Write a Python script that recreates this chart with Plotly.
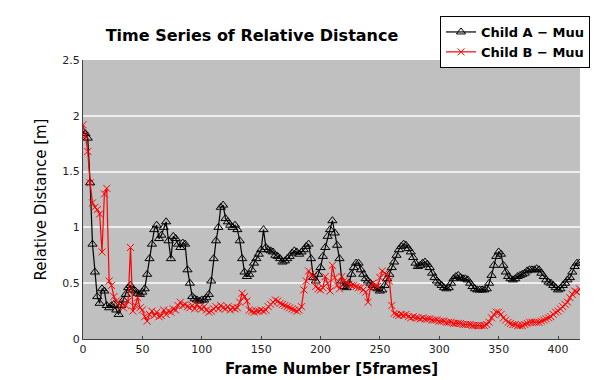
import plotly.graph_objects as go

frames = list(range(0, 419, 2))

child_a = [
    1.86, 1.84, 1.80, 1.40, 0.85, 0.60, 0.38, 0.32, 0.45, 0.43,
    0.30, 0.28, 0.30, 0.31, 0.26, 0.22, 0.30, 0.35, 0.40, 0.46,
    0.48, 0.44, 0.43, 0.41, 0.40, 0.42, 0.45, 0.58, 0.72, 0.85,
    0.98, 1.02, 0.90, 0.93, 1.00, 1.05, 0.88, 0.72, 0.92, 0.90,
    0.85, 0.82, 0.86, 0.85, 0.62, 0.50, 0.38, 0.36, 0.35, 0.34,
    0.35, 0.35, 0.37, 0.40, 0.52, 0.72, 0.88, 1.00, 1.18, 1.20,
    1.08, 1.05, 1.02, 1.00, 1.02, 0.98, 0.88, 0.72, 0.60, 0.56,
    0.58, 0.62, 0.68, 0.72, 0.76, 0.80, 0.98, 0.82, 0.80, 0.79,
    0.78, 0.75, 0.74, 0.72, 0.69, 0.70, 0.72, 0.74, 0.77, 0.79,
    0.78, 0.76, 0.78, 0.80, 0.83, 0.85, 0.72, 0.55, 0.52, 0.58,
    0.64, 0.74, 0.82, 0.92, 0.98, 1.06, 0.95, 0.84, 0.72, 0.52,
    0.47, 0.46, 0.50, 0.58, 0.64, 0.68, 0.68, 0.62, 0.58, 0.54,
    0.52, 0.50, 0.48, 0.46, 0.45, 0.43, 0.44, 0.48, 0.54, 0.58,
    0.64, 0.69, 0.75, 0.80, 0.83, 0.85, 0.84, 0.81, 0.78, 0.73,
    0.68, 0.65, 0.66, 0.68, 0.69, 0.67, 0.64, 0.59, 0.55, 0.52,
    0.50, 0.48, 0.46, 0.45, 0.46, 0.50, 0.54, 0.56, 0.57, 0.55,
    0.54, 0.54, 0.53, 0.50, 0.47, 0.45, 0.44, 0.44, 0.44, 0.44,
    0.45, 0.50, 0.57, 0.66, 0.74, 0.78, 0.76, 0.66, 0.60, 0.56,
    0.54, 0.53, 0.54, 0.56, 0.57, 0.58, 0.59, 0.61, 0.62, 0.62,
    0.62, 0.63, 0.62, 0.59, 0.56, 0.53, 0.51, 0.50, 0.48, 0.46,
    0.44, 0.45, 0.48, 0.50, 0.53, 0.55, 0.60, 0.65, 0.68, 0.68,
]

child_b = [
    1.92, 1.82, 1.68, 1.40, 1.22, 1.18, 1.16, 1.12, 0.78, 1.30,
    1.35, 0.52, 0.48, 0.38, 0.34, 0.32, 0.30, 0.28, 0.30, 0.34,
    0.82, 0.25, 0.30, 0.37, 0.28, 0.26, 0.20, 0.16, 0.22, 0.25,
    0.21, 0.24, 0.20, 0.21, 0.26, 0.22, 0.25, 0.24, 0.27, 0.26,
    0.30, 0.33, 0.30, 0.31, 0.29, 0.28, 0.30, 0.27, 0.31, 0.28,
    0.27, 0.29, 0.26, 0.24, 0.25, 0.27, 0.29, 0.27, 0.30, 0.28,
    0.27, 0.29, 0.26, 0.28, 0.27, 0.28, 0.33, 0.41, 0.38, 0.34,
    0.26, 0.25, 0.24, 0.25, 0.25, 0.26, 0.25, 0.26, 0.29, 0.31,
    0.33, 0.35, 0.34, 0.32, 0.31, 0.30, 0.29, 0.28, 0.27, 0.26,
    0.25, 0.26, 0.29, 0.44, 0.52, 0.61, 0.58, 0.56, 0.47, 0.45,
    0.44, 0.46, 0.56, 0.50, 0.43, 0.66, 0.55, 0.48, 0.45, 0.56,
    0.52, 0.50, 0.49, 0.48, 0.48, 0.47, 0.46, 0.46, 0.44, 0.42,
    0.33, 0.46, 0.50, 0.48, 0.47, 0.55, 0.61, 0.59, 0.57, 0.52,
    0.30, 0.23, 0.22, 0.21, 0.22, 0.21, 0.22, 0.20, 0.19, 0.20,
    0.19, 0.19, 0.18, 0.19, 0.18, 0.18, 0.18, 0.17, 0.17, 0.17,
    0.16, 0.16, 0.16, 0.15, 0.15, 0.15, 0.14, 0.14, 0.14, 0.14,
    0.13, 0.13, 0.13, 0.13, 0.12, 0.12, 0.12, 0.12, 0.12, 0.12,
    0.13, 0.15, 0.19, 0.22, 0.24, 0.24, 0.22, 0.19, 0.17, 0.15,
    0.14, 0.13, 0.13, 0.12, 0.12, 0.12, 0.13, 0.14, 0.15, 0.15,
    0.15, 0.15, 0.15, 0.16, 0.17, 0.18, 0.19, 0.20, 0.22, 0.24,
    0.25, 0.27, 0.29, 0.31, 0.33, 0.37, 0.40, 0.43, 0.42, 0.45,
]

x_ticks = [0, 50, 100, 150, 200, 250, 300, 350, 400]
y_ticks = [0, 0.5, 1, 1.5, 2, 2.5]
y_tick_text = ["0", "0.5", "1", "1.5", "2", "2.5"]

fig = go.Figure()
fig.add_trace(go.Scatter(
    x=frames, y=child_a, mode="lines+markers", name="Child A \u2212 Muu",
    line=dict(color="black", width=1.2),
    marker=dict(symbol="triangle-up-open", size=8, color="black", line=dict(width=1, color="black")),
))
fig.add_trace(go.Scatter(
    x=frames, y=child_b, mode="lines+markers", name="Child B \u2212 Muu",
    line=dict(color="#ff0000", width=1.2),
    marker=dict(symbol="x-thin-open", size=7, color="#ff0000", line=dict(width=1, color="#ff0000")),
))

fig.update_layout(
    width=607, height=380,
    margin=dict(l=75, r=35, t=52, b=49, autoexpand=False),
    paper_bgcolor="white", plot_bgcolor="#c0c0c0",
    font=dict(family="DejaVu Sans", color="black"),
    title=dict(text="Time Series of Relative Distance", x=(244 - 75) / 497, xref="paper",
               xanchor="center", y=1 - 27 / 380, yref="container", yanchor="middle",
               font=dict(size=16, family="DejaVu Sans", color="black", weight="bold")),
    legend=dict(x=(432 - 75) / 497, y=1 + 44 / 279, xref="paper", yref="paper",
                xanchor="left", yanchor="top", bgcolor="white",
                bordercolor="black", borderwidth=1,
                font=dict(size=13, family="DejaVu Sans", color="black", weight="bold"),
                tracegroupgap=0, itemwidth=30),
    showlegend=True,
)
fig.update_xaxes(
    range=[0, 418.5], tickvals=x_ticks, showgrid=False, zeroline=False,
    showline=True, linecolor="#404040", linewidth=1, ticks="inside", ticklen=3, tickcolor="#404040",
    tickfont=dict(size=11, family="DejaVu Sans", color="#222"),
    title=dict(text="Frame Number [5frames]",
               font=dict(size=15, family="DejaVu Sans", color="black", weight="bold"), standoff=8),
)
fig.update_yaxes(
    range=[0, 2.5], tickvals=y_ticks, ticktext=y_tick_text, showgrid=True, gridcolor="#eeeeee", gridwidth=2,
    zeroline=False, showline=True, linecolor="#404040", linewidth=1, ticks="",
    tickfont=dict(size=11, family="DejaVu Sans", color="#222"),
    title=dict(text="Relative Distance [m]", font=dict(size=15, family="DejaVu Sans", color="black"), standoff=12),
)

fig.write_html("out.html")
